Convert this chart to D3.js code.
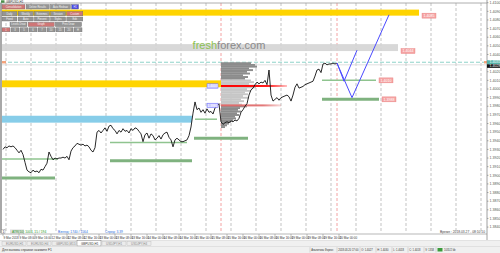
<!DOCTYPE html>
<html><head><meta charset="utf-8">
<script src="https://cdn.jsdelivr.net/npm/d3@7"></script>
<style>
body{margin:0;background:#fff;overflow:hidden}
svg{display:block}
text{font-family:"Liberation Sans",Arial,sans-serif}
</style>
</head><body>
<svg id="c" width="500" height="253"></svg>
<script>
// ---------- DATA ----------
const symbol = "GBPUSD,H1";
// hourly closes, one per bar from 9 Mar 2018 00:00
const prices = [
 1.3930,1.3933,1.3932,1.3934,1.3933,1.3934,1.3932,1.3929,1.3926,1.3929,
 1.3924,1.3915,1.3906,1.3904,1.3903,1.3906,1.3904,1.3905,1.3903,1.3907,
 1.3906,1.3910,1.3914,1.3927,1.3922,1.3918,1.3920,1.3919,1.3920,1.3920,
 1.3921,1.3920,1.3922,1.3918,1.3928,1.3932,1.3934,1.3937,1.3936,1.3935,
 1.3936,1.3934,1.3935,1.3933,1.3929,1.3927,1.3932,1.3950,1.3952,1.3949,
 1.3952,1.3955,1.3951,1.3957,1.3958,1.3954,1.3952,1.3948,1.3952,1.3950,
 1.3954,1.3951,1.3952,1.3949,1.3954,1.3952,1.3955,1.3954,1.3951,1.3948,
 1.3939,1.3947,1.3949,1.3943,1.3948,1.3946,1.3941,1.3943,1.3946,1.3942,
 1.3947,1.3949,1.3950,1.3944,1.3941,1.3933,1.3941,1.3943,1.3941,1.3939,
 1.3939,1.3940,1.3941,1.3946,1.3956,1.3972,1.3985,1.3976,1.3978,1.3973,
 1.3976,1.3972,1.3977,1.3973,1.3974,1.3971,1.3978,1.3980,1.3983,1.3962,
 1.3959,1.3961,1.3962,1.3961,1.3963,1.3962,1.3964,1.3963,1.3966,1.3973,
 1.3976,1.3980,1.3983,1.3993,1.3999,1.4001,1.4005,1.4008,1.4006,1.4008,
 1.4007,1.4010,1.4005,1.4022,1.3993,1.3986,1.3988,1.3990,1.3987,1.3990,
 1.3991,1.3992,1.3993,1.3991,1.3986,1.3993,1.4002,1.4006,1.4001,1.4002,
 1.4003,1.4005,1.4006,1.4007,1.4008,1.4009,1.4015,1.4022,1.4023,1.4019,
 1.4029,1.4030,1.4028,1.4029,1.4029,1.4030,1.4029,1.4030];
const bidPrice = 1.4031, askPrice = 1.4028;

const priceTickLabels = ["1.4100","1.4090","1.4080","1.4070","1.4060","1.4050","1.4040","1.4030","1.4020","1.4010",
 "1.4000","1.3990","1.3980","1.3970","1.3960","1.3950","1.3940","1.3930","1.3920","1.3910",
 "1.3900","1.3890","1.3880","1.3870","1.3860","1.3850","1.3840"];
const timeLabels = ["9 Mar 2018","9 Mar 08:00","9 Mar 16:00","12 Mar 00:00","12 Mar 08:00","12 Mar 16:00",
 "13 Mar 00:00","13 Mar 08:00","13 Mar 16:00","14 Mar 00:00","14 Mar 08:00","14 Mar 16:00",
 "15 Mar 00:00","15 Mar 08:00","15 Mar 16:00","16 Mar 00:00","16 Mar 08:00","16 Mar 16:00",
 "19 Mar 00:00","19 Mar 08:00","19 Mar 16:00","20 Mar 00:00"];
const labelEveryBars = 8;

// zones: yellow (far), grey, yellow (near), blue
const bandHi  = [1.4092, 1.4052, 1.4010, 1.3969];
const bandLo  = [1.4085, 1.4044, 1.4002, 1.3961];
const bandEnd = [208, 197.5, 109, 94.5];
// support levels
const levelPrice = [1.3919, 1.3897, 1.3938, 1.3917, 1.3965, 1.3943, 1.4010, 1.3988];
const levelFrom  = [-2, -1, 53.5, 53.5, 96, 95.5, 159.5, 159.5];
const levelTo    = [27.5, 26, 92, 94.5, 107, 122.5, 186.5, 188];
const levelBold  = [0, 1, 0, 1, 0, 1, 0, 1];

// volume profile
const profileStartBar = 109;
const profileTop = 1.4030, profileStep = 0.0002;
const profileVolume = [30,34,36,28,32,26,29,22,27,24,30,33,28,38,35,26,30,24,27,22,28,20,23,18,21,26,19,17,20,16,18,14,15,12,10,8,6,4];
const vaHigh = 1.4010, vaLow = 1.3981;
const pocPrice = 1.40035, pocEndBar = 142;
const valPrice = 1.3981, valEndBar = 139;

// forecast paths
const path1Bars = [167, 170.5, 177], path1Prices = [1.4030, 1.4009, 1.4045];
const path2Bars = [167, 174.5, 193], path2Prices = [1.4030, 1.3990, 1.4086];
const sessionBars = [109, 167];

// panel buttons
const btnRows = [
 ["Consolidation","Delete Results","Auto Redraw","H1"],
 ["Daily","Weekly","Extremes","Session","Custom"],
 ["Fixed","Auto","Percent","Styles","Edit"],
 ["Levels Draw","Graph","Prev Draw"],
 ["1","3","5","6","7","10","15","20","H"]];
const tabs = ["EURUSD,H1","EURUSD,H4","GBPUSD,M15","GBPUSD,H1","USDJPY,H1","USDJPY,H4"];
const activeTab = "GBPUSD,H1";
const statusFields = ["Аналитика Форекс","2018.03.20 17:00","O: 1.4027","H: 1.4030","L: 1.4018","C: 1.4018","V: 1358","1031/2 kb"];

// ---------- CHART ----------
const svg = d3.select("#c");
const x = d3.scaleLinear().domain([0, 242]).range([3, 487]);
const y = d3.scaleLinear().domain([1.4100, 1.3800]).range([2.7, 2.7 + 0.03 * 8630]);
const PL = 2, PR = 487, PT = 3, PB = 233;

svg.append("rect").attr("width",500).attr("height",253).attr("fill","#fff");
const defs = svg.append("defs");
defs.append("clipPath").attr("id","clip").append("rect").attr("x",PL).attr("y",PT).attr("width",PR-PL).attr("height",PB-PT);
function grad(id, c){
  const g = defs.append("linearGradient").attr("id",id).attr("x1","0").attr("x2","1");
  g.append("stop").attr("offset","0").attr("stop-color",c).attr("stop-opacity",1);
  g.append("stop").attr("offset","0.7").attr("stop-color",c).attr("stop-opacity",0.9);
  g.append("stop").attr("offset","1").attr("stop-color",c).attr("stop-opacity",0.25);
}
grad("gPoc","#ff0000"); grad("gVal","#e06a6a");

const plot = svg.append("g").attr("clip-path","url(#clip)");

// vertical grid
const gridBars = d3.range(1.5, 242, 12.5);
plot.selectAll(".vg").data(gridBars).join("line")
  .attr("x1",d=>x(d)).attr("x2",d=>x(d)).attr("y1",PT).attr("y2",PB)
  .attr("stroke","#b4b4b4").attr("stroke-width",0.8).attr("stroke-dasharray","3,2");
plot.selectAll(".sg").data(sessionBars).join("line")
  .attr("x1",d=>x(d)).attr("x2",d=>x(d)).attr("y1",PT).attr("y2",PB)
  .attr("stroke","#f08a8a").attr("stroke-width",0.8).attr("stroke-dasharray","3,2");

// bands
const bandFill = ["#ffd400","#d4d4d4","#ffd400","#87cde9"];
plot.selectAll(".band").data(bandHi).join("rect")
  .attr("x",x(-3)).attr("y",(d)=>y(d))
  .attr("width",(d,i)=>x(bandEnd[i])-x(-3))
  .attr("height",(d,i)=>y(bandLo[i])-y(d))
  .attr("fill",(d,i)=>bandFill[i]).attr("opacity",(d,i)=>i===1?0.9:1);

// bid / ask lines
plot.append("line").attr("x1",PL).attr("x2",PR).attr("y1",y(askPrice)).attr("y2",y(askPrice))
  .attr("stroke","#d8d8d8").attr("stroke-width",0.8);
plot.append("line").attr("x1",PL).attr("x2",PR).attr("y1",y(bidPrice)).attr("y2",y(bidPrice))
  .attr("stroke","#8fd3c9").attr("stroke-width",1).attr("stroke-dasharray","4,2");
plot.append("rect").attr("x",x(-0.5)).attr("y",y(bidPrice)-1.2).attr("width",4).attr("height",2.4).attr("fill","#f4a27a");
plot.append("rect").attr("x",PR-3).attr("y",y(bidPrice)-1.2).attr("width",3).attr("height",2.4).attr("fill","#f4a27a");

// volume profile
const vx = d3.scaleLinear().domain([0, 40]).range([0, 40]);
const rowH = y(0) - y(profileStep);
plot.selectAll(".vp").data(profileVolume).join("rect")
  .attr("x",x(profileStartBar))
  .attr("y",(d,i)=>y(profileTop - i*profileStep) - rowH/2)
  .attr("width",d=>vx(d)).attr("height",rowH+0.2)
  .attr("fill",(d,i)=>{const p=profileTop-i*profileStep; return (p<=vaHigh && p>=vaLow)?"#c6c6c6":"#8c8c8c";});
plot.append("rect").attr("x",x(profileStartBar)).attr("y",y(valPrice)-1).attr("width",x(valEndBar)-x(profileStartBar)).attr("height",2)
  .attr("fill","url(#gVal)");
plot.append("rect").attr("x",x(profileStartBar)).attr("y",y(pocPrice)-1).attr("width",x(pocEndBar)-x(profileStartBar)).attr("height",2)
  .attr("fill","url(#gPoc)");

// support levels
plot.selectAll(".lvl").data(levelPrice).join("line")
  .attr("x1",(d,i)=>x(levelFrom[i])).attr("x2",(d,i)=>x(levelTo[i]))
  .attr("y1",d=>y(d)).attr("y2",d=>y(d))
  .attr("stroke",(d,i)=>levelBold[i]?"#7fb27f":"#8fc48f")
  .attr("stroke-width",(d,i)=>levelBold[i]?3:1.5);

// price line
plot.append("path").datum(prices)
  .attr("d", d3.line().x((d,i)=>x(i)).y(d=>y(d)))
  .attr("fill","none").attr("stroke","#111").attr("stroke-width",0.9);

// forecast paths
[[path1Bars,path1Prices],[path2Bars,path2Prices]].forEach(([bs,ps])=>{
  plot.append("path").datum(bs.map((b,i)=>[b,ps[i]]))
    .attr("d", d3.line().x(d=>x(d[0])).y(d=>y(d[1])))
    .attr("fill","none").attr("stroke","#4a4aff").attr("stroke-width",1);
});

// watermark
const wm = svg.append("text").attr("x",229).attr("y",49).attr("text-anchor","middle")
  .attr("font-size",11).attr("font-family","Lato, sans-serif");
wm.append("tspan").attr("fill","#8cc152").text("fresh");
wm.append("tspan").attr("fill","#8a8a8a").text("forex.com");

// price tags (pink)
const tagP = [bandLo[0], bandLo[1], levelPrice[6], levelPrice[7]];
const tagB = [bandEnd[0], bandEnd[1], levelTo[6], levelTo[7]];
const tg = plot.selectAll(".tag").data(tagP).join("g")
  .attr("transform",(d,i)=>`translate(${x(tagB[i]+1.5)},${y(d)})`);
tg.append("rect").attr("x",0).attr("y",-2.5).attr("width",14).attr("height",5)
  .attr("fill","#f5a3a3").attr("stroke","#e88080").attr("stroke-width",0.4);
tg.append("text").attr("x",7).attr("y",1.3).attr("text-anchor","middle").attr("font-size",3.6)
  .attr("fill","#fff").text(d=>d.toFixed(4));

// purple tags
const pp = [pocPrice, valPrice];
const pg = plot.selectAll(".ptag").data(pp).join("g")
  .attr("transform",d=>`translate(${x(profileStartBar-7)},${y(d)})`);
pg.append("rect").attr("x",0).attr("y",-2.2).attr("width",11).attr("height",4.4)
  .attr("fill","#c8c8ff").attr("stroke","#6a6aff").attr("stroke-width",0.5);
pg.append("text").attr("x",5.5).attr("y",1.2).attr("text-anchor","middle").attr("font-size",3.3)
  .attr("fill","#fff").text(d=>d.toFixed(4));

// frame
svg.append("line").attr("x1",0).attr("x2",PR).attr("y1",PT).attr("y2",PT).attr("stroke","#9a9a9a").attr("stroke-width",0.8);
svg.append("line").attr("x1",1).attr("x2",1).attr("y1",PT).attr("y2",PB).attr("stroke","#a8a8a8").attr("stroke-width",2);
svg.append("line").attr("x1",PR).attr("x2",PR).attr("y1",0).attr("y2",PB+7).attr("stroke","#888").attr("stroke-width",0.8);

// title
svg.append("rect").attr("x",1).attr("y",0.3).attr("width",3.5).attr("height",2.5).attr("fill","#4b8f4b");
svg.append("text").attr("x",6).attr("y",2.7).attr("font-size",3).attr("fill","#333").text(symbol);

// right axis
const ty = priceTickLabels.map(s=>+s);
svg.selectAll(".yt").data(ty).join("line").attr("x1",PR).attr("x2",PR+1.5)
  .attr("y1",d=>y(d)).attr("y2",d=>y(d)).attr("stroke","#666").attr("stroke-width",0.5);
svg.selectAll(".yl").data(priceTickLabels).join("text")
  .attr("x",PR+2.5).attr("y",d=>y(+d)+1.2).attr("font-size",3.6).attr("fill","#555").text(d=>d);
svg.append("rect").attr("x",PR).attr("y",y(bidPrice)-2).attr("width",13).attr("height",4).attr("fill","#55b3a8");
svg.append("text").attr("x",PR+2.5).attr("y",y(bidPrice)+1.2).attr("font-size",3.6).attr("fill","#fff").text(bidPrice.toFixed(4));
svg.append("rect").attr("x",PR).attr("y",y(bidPrice)+2).attr("width",13).attr("height",3.6).attr("fill","#111");
svg.append("text").attr("x",PR+2.5).attr("y",y(bidPrice)+5).attr("font-size",3.6).attr("fill","#fff").text(askPrice.toFixed(4));

// bottom overlay texts
svg.append("rect").attr("x",1.5).attr("y",229.5).attr("width",3.5).attr("height",4).attr("fill","#fff").attr("stroke","#888").attr("stroke-width",0.4);
svg.append("text").attr("x",2.4).attr("y",232.8).attr("font-size",3.2).attr("fill","#333").text("1");
svg.append("rect").attr("x",10).attr("y",229.5).attr("width",14).attr("height",4).attr("fill","#dcdcdc");
svg.append("text").attr("x",12).attr("y",232.8).attr("font-size",3.3).attr("fill","#2a9a2a").text("ATR(10) 1004, 15 / 194");
svg.append("text").attr("x",58).attr("y",232.8).attr("font-size",3.3).attr("fill","#2a6ee0").text("Взгляд: 1740 / 1564");
svg.append("text").attr("x",105).attr("y",232.8).attr("font-size",3.3).attr("fill","#2a6ee0").text("Спред: 3.39");
svg.append("text").attr("x",485).attr("y",232.8).attr("text-anchor","end").attr("font-size",3.3).attr("fill","#444").text("Время : 2018.03.27 - 08:10:10");

// time axis
svg.append("line").attr("x1",0).attr("x2",PR).attr("y1",PB+1).attr("y2",PB+1).attr("stroke","#888").attr("stroke-width",0.6);
svg.selectAll(".xt").data(timeLabels).join("line")
  .attr("x1",(d,i)=>x(i*labelEveryBars)).attr("x2",(d,i)=>x(i*labelEveryBars))
  .attr("y1",PB+1).attr("y2",PB+3).attr("stroke","#666").attr("stroke-width",0.4);
svg.selectAll(".xl").data(timeLabels).join("text")
  .attr("x",(d,i)=>x(i*labelEveryBars)+0.5).attr("y",PB+5.5).attr("font-size",3).attr("fill","#333").text(d=>d);

// tabs
svg.append("line").attr("x1",0).attr("x2",500).attr("y1",240.5).attr("y2",240.5).attr("stroke","#aaa").attr("stroke-width",0.5);
svg.append("rect").attr("x",0).attr("y",240.5).attr("width",500).attr("height",6).attr("fill","#f0f0f0");
const tabW = 25;
tabs.forEach((t,i)=>{
  const tx = 2 + i*tabW;
  const act = t===activeTab;
  svg.append("rect").attr("x",tx).attr("y",act?240.5:241.2).attr("width",tabW-1).attr("height",act?5.5:4.5)
    .attr("fill",act?"#fff":"#ececec").attr("stroke",act?"#666":"#bbb").attr("stroke-width",0.4);
  svg.append("text").attr("x",tx+4).attr("y",244.6).attr("font-size",3).attr("fill",act?"#333":"#888").text(t);
});

// status bar
svg.append("rect").attr("x",0).attr("y",246.5).attr("width",500).attr("height",6.5).attr("fill","#f0f0f0");
svg.append("line").attr("x1",0).attr("x2",500).attr("y1",246.5).attr("y2",246.5).attr("stroke","#ccc").attr("stroke-width",0.5);
svg.append("text").attr("x",2).attr("y",251).attr("font-size",3.3).attr("fill","#333").text("Для вызова справки нажмите F1");
const sfW = [27, 23, 16, 16, 16, 16, 12, 18];
let sx = 310;
statusFields.forEach((f,i)=>{
  svg.append("line").attr("x1",sx).attr("x2",sx).attr("y1",247.2).attr("y2",252.5).attr("stroke","#aaa").attr("stroke-width",0.4);
  if(i===statusFields.length-1){
    svg.append("rect").attr("x",sx+1.5).attr("y",248).attr("width",5).attr("height",3.5).attr("fill","#3c9b3c");
    svg.append("text").attr("x",sx+8).attr("y",251).attr("font-size",2.6).attr("fill","#333").text(f);
  } else {
    svg.append("text").attr("x",sx+1.2).attr("y",251).attr("font-size",2.6).attr("fill","#333").text(f);
  }
  sx += sfW[i];
});

// buttons panel
const rowY = [4.5, 11.5, 17, 22.3, 27.8];
const rowH2 = [4.5, 4.3, 4, 4.3, 4];
const rowStart = [2, 2, 2, 10, 2];
const rowWidths = [[23,23,20,7],[15,15,15,15,16],[15,15,15,15,16],[17,26,26],[8,8,8,8,8,8,8,8,8]];
const redBtn = {"0-0":1,"1-4":1,"3-1":1,"4-0":1}, blueBtn = {"0-3":1};
btnRows.forEach((row,r)=>{
  let bx = rowStart[r];
  row.forEach((lab,k)=>{
    const w = rowWidths[r][k];
    const key = r+"-"+k;
    const fill = redBtn[key] ? "#cf7676" : blueBtn[key] ? "#4a4ae6" : "#959595";
    svg.append("rect").attr("x",bx).attr("y",rowY[r]).attr("width",w).attr("height",rowH2[r])
      .attr("fill",fill).attr("stroke","#6e6e6e").attr("stroke-width",0.4);
    svg.append("text").attr("x",bx+w/2).attr("y",rowY[r]+rowH2[r]*0.72).attr("text-anchor","middle")
      .attr("font-size",2.6).attr("fill","#f2f2f2").text(lab);
    bx += w + (r===4 ? 1 : 1.2);
  });
});
</script>
</body></html>
